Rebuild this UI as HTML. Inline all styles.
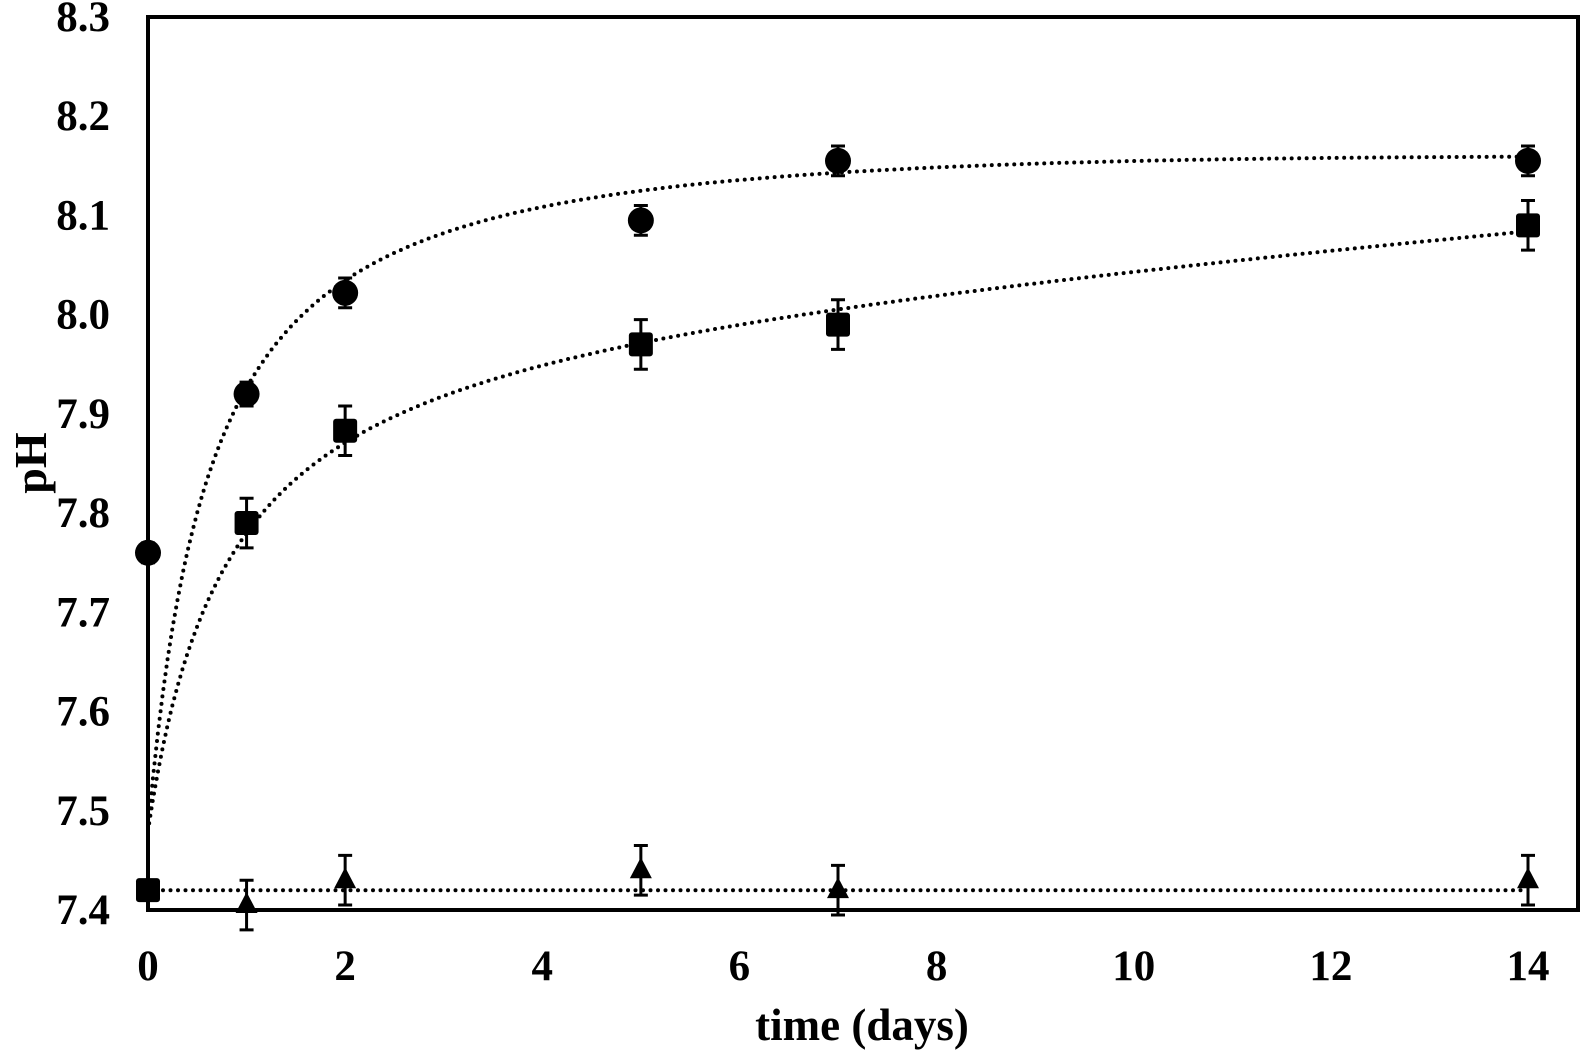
<!DOCTYPE html>
<html><head><meta charset="utf-8"><style>
body{margin:0;background:#fff}
svg text{font-family:"Liberation Serif",serif;font-weight:bold;fill:#000}
</style></head><body>
<svg width="1583" height="1051">
<g id="g"></g>
</svg>
<script>
const days=[0,1,2,5,7,14];
const circleVals=[7.76,7.92,8.022,8.095,8.155,8.155];
const circleErr=[0.01,0.012,0.015,0.015,0.015,0.015];
const squareVals=[7.42,7.79,7.883,7.97,7.99,8.09];
const squareErr=[0.01,0.025,0.025,0.025,0.025,0.025];
const triVals=[7.42,7.405,7.43,7.44,7.42,7.43];
const triErr=[0.01,0.025,0.025,0.025,0.025,0.025];
const circleFit=[7.48,0.74,0.65,-0.002];
const squareFit=[7.48,0.526,0.8,0.0076];
const triFit=[7.42,0,1,0];
const xTicks=[0,2,4,6,8,10,12,14];
const yTicks=["7.4","7.5","7.6","7.7","7.8","7.9","8.0","8.1","8.2","8.3"];
const L=148,R=1578,T=17,B=910;
const X=t=>L+t*(1528-L)/14;
const Y=v=>B-(v-7.4)*(B-T)/0.9;
const NS="http://www.w3.org/2000/svg",g=document.getElementById('g');
function mk(tag,at,txt){const e=document.createElementNS(NS,tag);for(const k in at)e.setAttribute(k,at[k]);if(txt!=null)e.textContent=txt;g.appendChild(e);return e;}
function fitLine(p,name){let d="";for(let i=0;i<=280;i++){const t=i*14/280;const v=p[0]+p[1]*t/(p[2]+t)+p[3]*t;d+=(i?"L":"M")+X(t).toFixed(1)+","+Y(v).toFixed(1);}
const e=mk('path',{d:d,fill:'none',stroke:'#000','stroke-width':4,'stroke-linecap':'round','stroke-dasharray':'0 7.5'});

}
fitLine(circleFit,'circle-fit-curve');fitLine(squareFit,'square-fit-curve');fitLine(triFit,'triangle-fit-curve');
function errBar(t,v,er,name){const x=X(t);const e=mk('path',{d:`M${x},${Y(v+er)}V${Y(v-er)}M${x-7},${Y(v+er)}H${x+7}M${x-7},${Y(v-er)}H${x+7}`,stroke:'#000','stroke-width':3,fill:'none'});

}
days.forEach((t,i)=>{
errBar(t,triVals[i],triErr[i],'triangle-error-bar');
const x=X(t),y=Y(triVals[i]);
const p=mk('polygon',{points:`${x},${y-13} ${x-11},${y+8} ${x+11},${y+8}`,fill:'#000'});


});
days.forEach((t,i)=>{
errBar(t,squareVals[i],squareErr[i],'square-error-bar');
const x=X(t),y=Y(squareVals[i]);
const r=mk('rect',{x:x-12,y:y-12,width:24,height:24,rx:3,fill:'#000'});


});
days.forEach((t,i)=>{
errBar(t,circleVals[i],circleErr[i],'circle-error-bar');
const c=mk('circle',{cx:X(t),cy:Y(circleVals[i]),r:13,fill:'#000'});


});
const fr=mk('rect',{x:L,y:T,width:R-L,height:B-T,fill:'none',stroke:'#000','stroke-width':4});


yTicks.forEach((s,i)=>{const e=mk('text',{x:110,y:Y(7.4+i*0.1)+14,'text-anchor':'end','font-size':43},s);

});
xTicks.forEach(t=>{const e=mk('text',{x:X(t),y:980,'text-anchor':'middle','font-size':43},String(t));

});
const xt=mk('text',{x:862,y:1040,'text-anchor':'middle','font-size':45},'time (days)');


const yt=mk('text',{x:0,y:0,'text-anchor':'middle','font-size':46,transform:'translate(46,463) rotate(-90)'},'pH');


</script>
</body></html>
